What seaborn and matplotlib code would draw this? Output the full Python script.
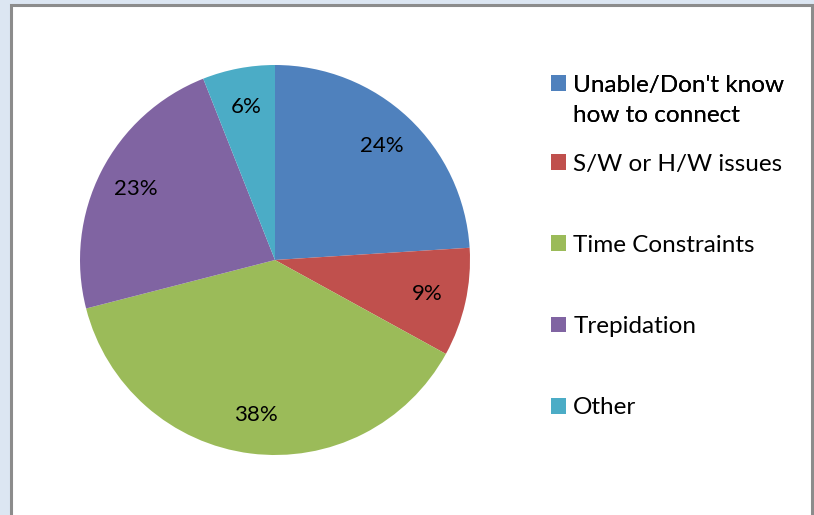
import matplotlib
matplotlib.use("Agg")
import matplotlib.pyplot as plt
import seaborn as sns
from matplotlib.patches import Rectangle
from matplotlib.offsetbox import HPacker

sns.set_theme(style="white")
plt.rcParams['font.family'] = ['Lato', 'DejaVu Sans']

categories = ["Unable/Don't know\nhow to connect", "S/W or H/W issues",
              "Time Constraints", "Trepidation", "Other"]
values = [24, 9, 38, 23, 6]
colors = ["#4f81bd", "#c0504d", "#9bbb59", "#8064a2", "#4bacc6"]

W, H = 814, 515
fig = plt.figure(figsize=(W / 100, H / 100), dpi=100)
fig.patch.set_facecolor("#dce6f2")

# white chart area with gray border
bg = Rectangle((10.5 / W, -0.01), (812 - 10.5) / W, (H - 4.5) / H + 0.01,
               transform=fig.transFigure, facecolor="white",
               edgecolor="#8c8c8c", linewidth=2.2, zorder=-5)
fig.add_artist(bg)

cx, cy, r = 275, 260, 195
ax = fig.add_axes([(cx - r) / W, (H - cy - r) / H, 2 * r / W, 2 * r / H])
ax.set_zorder(2)
ax.patch.set_alpha(0)
wedges, texts, autotexts = ax.pie(values, colors=colors, startangle=90, counterclock=False,
                                  autopct=lambda p: f"{p:.0f}%", pctdistance=0.80,
                                  wedgeprops=dict(linewidth=0),
                                  textprops=dict(fontsize=16, color="black"))
ax.set_xlim(-1, 1)
ax.set_ylim(-1, 1)
ax.set_aspect("auto")
ax.axis("off")

legkw = dict(frameon=False, fontsize=17.5, handlelength=0.62, handleheight=0.62,
             handletextpad=0.3, borderpad=0, borderaxespad=0)

# first (two-line) entry
leg1 = fig.legend(wedges[:1], categories[:1], loc="upper left",
                  bbox_to_anchor=(551 / W, 1 - 75 / H), **legkw)
for t in leg1.get_texts():
    t.set_color("black")
    t.set_linespacing(1.55)

def _top_align(box):
    for c in box.get_children():
        if isinstance(c, HPacker):
            c.align = "top"
        _top_align(c)
_top_align(leg1._legend_handle_box)

# remaining entries
leg2 = fig.legend(wedges[1:], categories[1:], loc="center left",
                  bbox_to_anchor=(551 / W, 1 - 286 / H), labelspacing=2.48, **legkw)
for t in leg2.get_texts():
    t.set_color("black")
fig.add_artist(leg1)

fig.savefig("out.png", dpi=100)
